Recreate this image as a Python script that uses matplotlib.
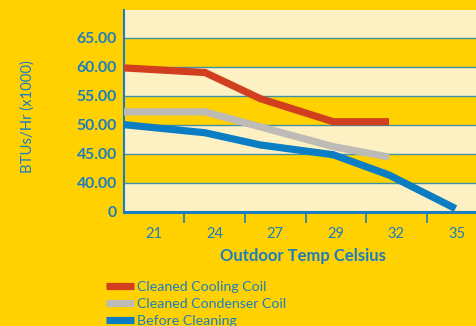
import numpy as np
import matplotlib
matplotlib.use("Agg")
import matplotlib.pyplot as plt

# chart data (x in category-slot units: 0 = "21" ... 5 = "35", -0.5 = left edge)
temps = ["21", "24", "27", "29", "32", "35"]
x_cooling = [-0.5, 0.84, 1.75, 2.96, 3.88]
cooling = [59.8, 59.0, 54.5, 50.5, 50.5]
x_condenser = [-0.5, 0.84, 2.96, 3.88]
condenser = [52.2, 52.2, 46.2, 44.4]
x_before = [-0.5, 0.84, 1.75, 2.96, 3.88, 4.98]
before = [50.0, 48.6, 46.5, 44.8, 41.3, 4.0]
y_ticks = [0, 40, 45, 50, 55, 60, 65]

YELLOW = "#FFD100"
CREAM = "#FDF1C4"
BLUE = "#1B7DC0"
RED = "#D13F1E"
GRAY = "#BEBAB5"
LINEBLUE = "#0A7DC3"

plt.rcParams["font.family"] = ["Lato", "DejaVu Sans"]


# broken axis: 0-40 squeezed into one band, then 5 per band
def fwd(v):
    v = np.asarray(v, dtype=float)
    return np.where(v < 40, v / 40.0, (v - 40) / 5.0 + 1)


def inv(p):
    p = np.asarray(p, dtype=float)
    return np.where(p < 1, p * 40.0, (p - 1) * 5.0 + 40)


fig = plt.figure(figsize=(4.77, 3.26), dpi=100)
fig.patch.set_facecolor(YELLOW)
ax = fig.add_axes([124 / 477, 1 - 211.5 / 326, 363 / 477, 201.5 / 326])
ax.set_facecolor(YELLOW)
ax.set_yscale("function", functions=(fwd, inv))
ax.set_ylim(0, 69.8)
ax.set_xlim(-0.5, 5.5)

for lo, hi in [(0, 40), (45, 50), (55, 60), (65, 70)]:
    ax.axhspan(lo, hi, color=CREAM, zorder=0, lw=0)

ax.set_yticks(y_ticks)
ax.set_yticklabels(["0" if t == 0 else f"{t:.2f}" for t in y_ticks])
ax.yaxis.grid(True, color="#3F8FA6", lw=1.0, zorder=1)
ax.set_axisbelow(True)

ax.plot(x_cooling, cooling, color=RED, lw=5.2, solid_capstyle="butt",
        solid_joinstyle="miter", label="Cleaned Cooling Coil", zorder=3)
ax.plot(x_condenser, condenser, color=GRAY, lw=5.2, solid_capstyle="butt",
        solid_joinstyle="miter", label="Cleaned Condenser Coil", zorder=3)
ax.plot(x_before, before, color=LINEBLUE, lw=5.2, solid_capstyle="butt",
        solid_joinstyle="miter", label="Before Cleaning", zorder=4)

ax.set_xticks(range(len(temps)))
ax.set_xticklabels(temps)
ax.set_xticks(np.arange(0.5, 5, 1), minor=True)
ax.tick_params(axis="x", which="major", length=0, pad=11, labelsize=10.5,
               labelcolor=BLUE)
ax.tick_params(axis="x", which="minor", length=8, width=1.2, color=BLUE)
ax.tick_params(axis="y", length=0, pad=5, labelsize=11.3, labelcolor=BLUE)
for lab in ax.get_yticklabels():
    lab.set_fontweight("bold")

for s in ["top", "right"]:
    ax.spines[s].set_visible(False)
ax.spines["left"].set_color(BLUE)
ax.spines["left"].set_linewidth(1.5)
ax.spines["bottom"].set_color(BLUE)
ax.spines["bottom"].set_linewidth(2.2)

fig.text(303 / 477, 1 - 256 / 326, "Outdoor Temp Celsius", color=BLUE,
         fontsize=12, fontweight="bold", ha="center", va="center")
fig.text(28 / 477, 1 - 117 / 326, "BTUs/Hr (x1000)", color=BLUE,
         fontsize=10.7, rotation=90, ha="center", va="center")

fig.legend(loc="upper left", bbox_to_anchor=(106 / 477, 1 - 281 / 326),
           frameon=False, fontsize=10.2, labelcolor=BLUE, handlelength=2.0,
           handletextpad=0.2, labelspacing=0.34, borderpad=0,
           borderaxespad=0)

fig.savefig("out.png", dpi=100, facecolor=YELLOW)
